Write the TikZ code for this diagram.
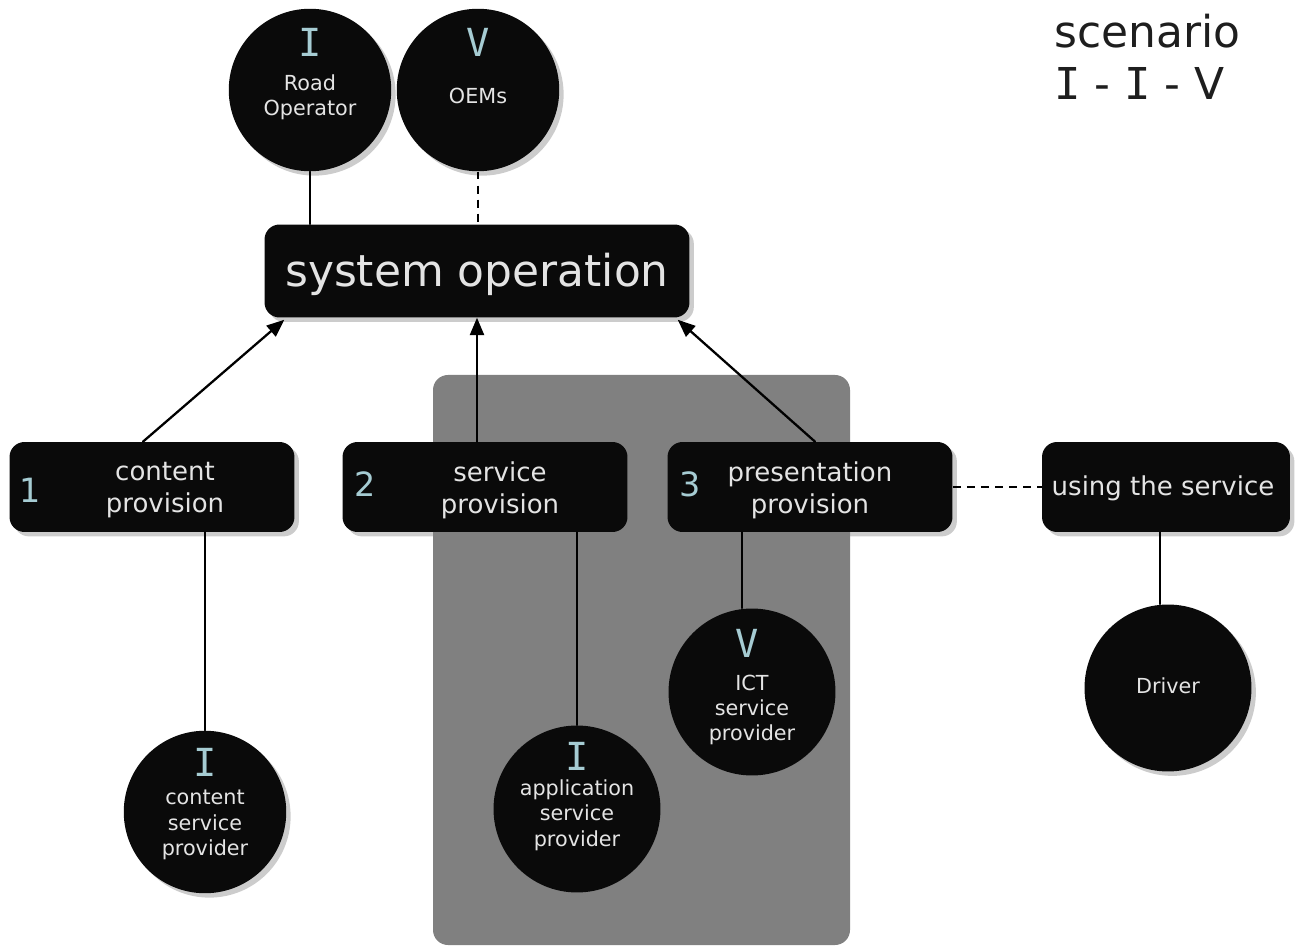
\documentclass[tikz,border=0pt]{standalone}
\usepackage{fontspec}
\setmainfont{DejaVu Sans}
\newfontfamily\numfont{DejaVu Sans Mono}
\usetikzlibrary{arrows}
\usetikzlibrary{calc}
\usetikzlibrary{shadows}
\definecolor{boxblack}{HTML}{0A0A0A}
\definecolor{lbltxt}{HTML}{E4E4E4}
\definecolor{numblue}{HTML}{A6CCD3}
\definecolor{panelgray}{HTML}{808080}
\definecolor{scentxt}{HTML}{1E1E1E}
\tikzset{
  softshadow/.style={drop shadow={opacity=0.4,shadow xshift=2.5pt,shadow yshift=-2.5pt}},
  task/.style={fill=boxblack,rounded corners=0.3cm,minimum width=5.7cm,minimum height=1.8cm,inner sep=0pt,softshadow},
  actor/.style={circle,fill=boxblack,minimum size=3.25cm,inner sep=0pt,softshadow},
  tasktxt/.style={text=lbltxt,align=center,inner sep=0pt,font=\fontsize{14.8}{18.2}\selectfont},
  actxt/.style={text=lbltxt,align=center,inner sep=0pt,font=\fontsize{11.8}{14.4}\selectfont},
  tasknum/.style={text=numblue,inner sep=0pt,font=\fontsize{19}{19}\selectfont},
  actnum/.style={text=numblue,inner sep=0pt,font=\numfont\fontsize{22}{22}\selectfont},
  link/.style={line width=1.3pt},
  loose/.style={line width=1.3pt,dash pattern=on 4.5pt off 3.5pt,line cap=butt},
}
\begin{document}
\begin{tikzpicture}[line cap=round,line join=round,>=triangle 45,x=0.02cm,y=-0.02cm]
\useasboundingbox (0,0) rectangle (1302,952);
%
\fill[panelgray,rounded corners=0.3cm] (433,375) rectangle (850,945);
%
\node[anchor=north west,align=left,text=scentxt,inner sep=0pt,
  font=\fontsize{25}{29.6}\selectfont] (scen) at (1054,14)
  {scenario\\{\numfont I} - {\numfont I} - V};
%
\node[actor] (road) at (310,90) {};
\node[actnum] at ($(road)+(0,-48)$) {I};
\node[actxt] at ($(road)+(0,7)$) {Road\\Operator};
\node[actor] (oem) at (478,90) {};
\node[actnum] at ($(oem)+(0,-48)$) {V};
\node[actxt] at ($(oem)+(0,6)$) {OEMs};
%
\node[task,minimum width=8.5cm,minimum height=1.86cm] (sysop) at (477,271) {};
\node[text=lbltxt,inner sep=0pt,font=\fontsize{25}{25}\selectfont] at ($(sysop)+(0,3)$) {system operation};
%
\node[task] (cont) at (152,487) {};
\node[tasknum] at (30,490) {1};
\node[tasktxt] at (165,490) {content\\provision};
\node[task] (serv) at (485,487) {};
\node[tasknum] at (365,484) {2};
\node[tasktxt] at (500,490) {service\\provision};
\node[task] (pres) at (810,487) {};
\node[tasknum] at (690,484) {3};
\node[tasktxt] at (810,490) {presentation\\provision};
\node[task,minimum width=4.96cm] (use) at (1166,487) {};
\node[tasktxt] at (1163,488) {using the service};
%
\node[actor] (csp) at (205,812) {};
\node[actnum] at ($(csp)+(0,-50)$) {I};
\node[actxt] at ($(csp)+(0,13)$) {content\\service\\provider};
\node[actor,minimum size=3.34cm] (asp) at (577,809) {};
\node[actnum] at ($(asp)+(0,-53)$) {I};
\node[actxt] at ($(asp)+(0,6)$) {application\\service\\provider};
\node[actor,minimum size=3.34cm] (ict) at (752,692) {};
\node[actnum] at ($(ict)+(-5,-49)$) {V};
\node[actxt] at ($(ict)+(0,18)$) {ICT\\service\\provider};
\node[actor,minimum size=3.34cm] (drv) at (1168,688) {};
\node[actxt] at ($(drv)+(0,-2)$) {Driver};
%
\draw[link] (road.south) -- (road.south |- sysop.north);
\draw[loose] (oem.south) -- (oem.south |- sysop.north);
\draw[link,->] ($(cont.north)+(-9,0)$) -- ($(sysop.south west)+(20,2)$);
\draw[link,->] (serv.north -| sysop.south) -- (sysop.south);
\draw[link,->] ($(pres.north)+(5,0)$) -- ($(sysop.south east)+(-12,2)$);
\draw[loose] (pres.east) -- (use.west);
%
\draw[link] (cont.south -| csp.north) -- (csp.north);
\draw[link] (serv.south -| asp.north) -- (asp.north);
\coordinate (ictin) at ($(pres.south)+(-68,0)$);
\draw[link] (ictin) -- (ictin |- ict.north);
\coordinate (drvin) at ($(use.south)+(-6,0)$);
\draw[link] (drvin) -- (drvin |- drv.north);
\end{tikzpicture}
\end{document}
